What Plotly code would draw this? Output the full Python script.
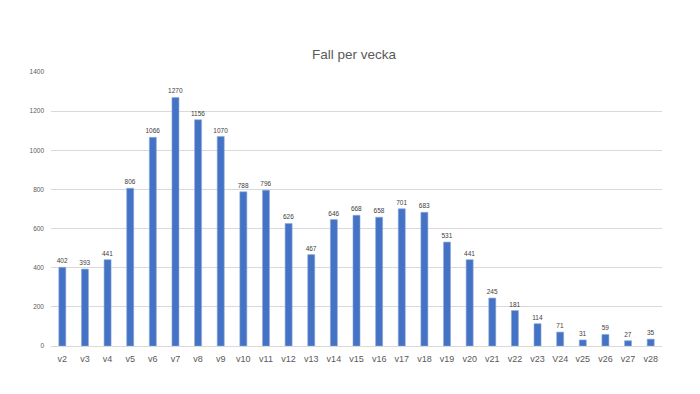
import plotly.graph_objects as go

weeks = ["v2", "v3", "v4", "v5", "v6", "v7", "v8", "v9", "v10", "v11", "v12", "v13", "v14",
         "v15", "v16", "v17", "v18", "v19", "v20", "v21", "v22", "v23", "V24", "v25", "v26",
         "v27", "v28"]
cases = [402, 393, 441, 806, 1066, 1270, 1156, 1070, 788, 796, 626, 467, 646,
         668, 658, 701, 683, 531, 441, 245, 181, 114, 71, 31, 59, 27, 35]
y_ticks = [0, 200, 400, 600, 800, 1000, 1200, 1400]

fig = go.Figure(go.Bar(
    x=weeks, y=cases,
    marker=dict(color="#4472C4", line=dict(color="#8FAADC", width=0.6)),
    text=[str(v) for v in cases], textposition="outside",
    textfont=dict(size=6.5, color="#404040", family="Liberation Sans"),
    constraintext="none",
    cliponaxis=False,
))

# page body has an 8px margin, so the figure is sized to 692x386
fig.update_layout(
    width=692, height=386,
    margin=dict(l=43, r=38, t=64, b=48),
    paper_bgcolor="white", plot_bgcolor="white",
    title=dict(text="Fall per vecka", x=0.5, xanchor="center", y=0.881, yanchor="middle",
               font=dict(size=13.5, color="#595959", family="Liberation Sans")),
    bargap=0.69,
    showlegend=False,
    font=dict(family="Liberation Sans"),
)
fig.update_xaxes(
    showgrid=False, showline=True, linecolor="#D9D9D9", linewidth=1,
    tickfont=dict(size=9, color="#595959"), ticks="", ticklabelstandoff=4,
)
fig.update_yaxes(
    range=[0, 1400], tickvals=y_ticks, showgrid=True, gridcolor="#D9D9D9", gridwidth=1,
    zeroline=False, showline=False, tickfont=dict(size=6.5, color="#595959"), ticks="",
    ticklabelstandoff=6,
)

fig.write_html("out.html")
